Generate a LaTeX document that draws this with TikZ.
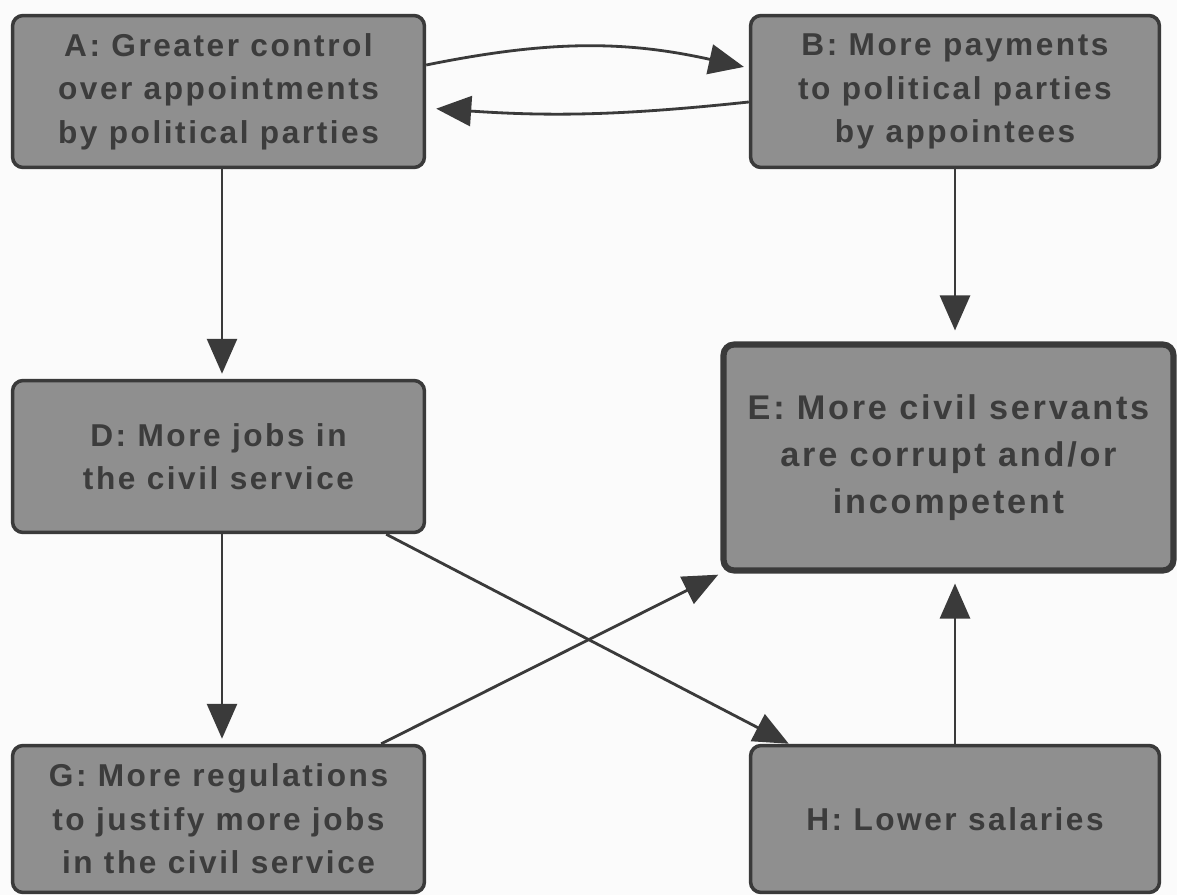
\documentclass[tikz,border=0pt]{standalone}
\usepackage{fontspec}
\setmainfont{Liberation Sans}[LetterSpace=8]
\usetikzlibrary{arrows.meta}

\definecolor{boxfill}{HTML}{8F8F8F}
\definecolor{boxline}{HTML}{3A3A3A}
\definecolor{boxtext}{HTML}{3C3C3C}
\definecolor{paper}{HTML}{FBFBFB}

\begin{document}
\begin{tikzpicture}[
        x=0.02cm, y=-0.02cm,
        box/.style={draw=boxline, fill=boxfill, line width=2pt, rounded corners=6pt,
                    align=center, text=boxtext, inner sep=3pt,
                    font=\fontsize{18}{24.7}\selectfont\bfseries,
                    minimum width=8.24cm, minimum height=3.04cm},
        big/.style={box, line width=3.5pt, minimum width=9.0cm, minimum height=4.52cm,
                    font=\fontsize{19.5}{26.7}\selectfont\bfseries},
        flow/.style={-{Triangle[length=0.7cm, width=0.6cm]}, line width=1.6pt,
                     draw=boxline, shorten >=0.1cm}]

    % background, fixes the page size
    \fill[paper] (0,0) rectangle (1177,895);

    \node[box] (a) at (218.5,91.5) {A: Greater control\\over appointments\\by political parties};
    \node[box, minimum width=8.18cm] (b) at (955,91.5) {B: More payments\\to political parties\\by appointees};
    \node[box] (d) at (218.5,456.5) {D: More jobs in\\the civil service};
    \node[big] (e) at (948.5,457.5) {E: More civil servants\\are corrupt and/or\\incompetent};
    \node[box, minimum height=2.94cm] (g) at (218.5,819) {G: More regulations\\to justify more jobs\\in the civil service};
    \node[box, minimum width=8.18cm, minimum height=2.94cm] (h) at (955,819) {H: Lower salaries};

    % --- A <-> B
    \draw[flow] ([yshift=0.53cm]a.east) to[bend left=12] ([yshift=0.47cm]b.west);
    \draw[flow, shorten >=0.2cm] ([yshift=-0.21cm]b.west) to[bend left=5] ([yshift=-0.33cm]a.east);

    % --- downwards
    \draw[flow] ([xshift=0.07cm]a.south) -- ([xshift=0.07cm]d.north);
    \draw[flow, shorten >=0.22cm] (b.south) -- (b.south |- e.north);
    \draw[flow] ([xshift=0.07cm]d.south) -- ([xshift=0.07cm]g.north);

    % --- crossing arrows
    \draw[flow, shorten >=0cm] ([xshift=-0.8cm]d.south east) -- ([xshift=0.8cm]h.north west);
    \draw[flow, shorten >=0.05cm] ([xshift=-0.9cm]g.north east) -- (e.south west);
    \draw[flow, shorten >=0.2cm] (h.north) -- (h.north |- e.south);

\end{tikzpicture}
\end{document}
